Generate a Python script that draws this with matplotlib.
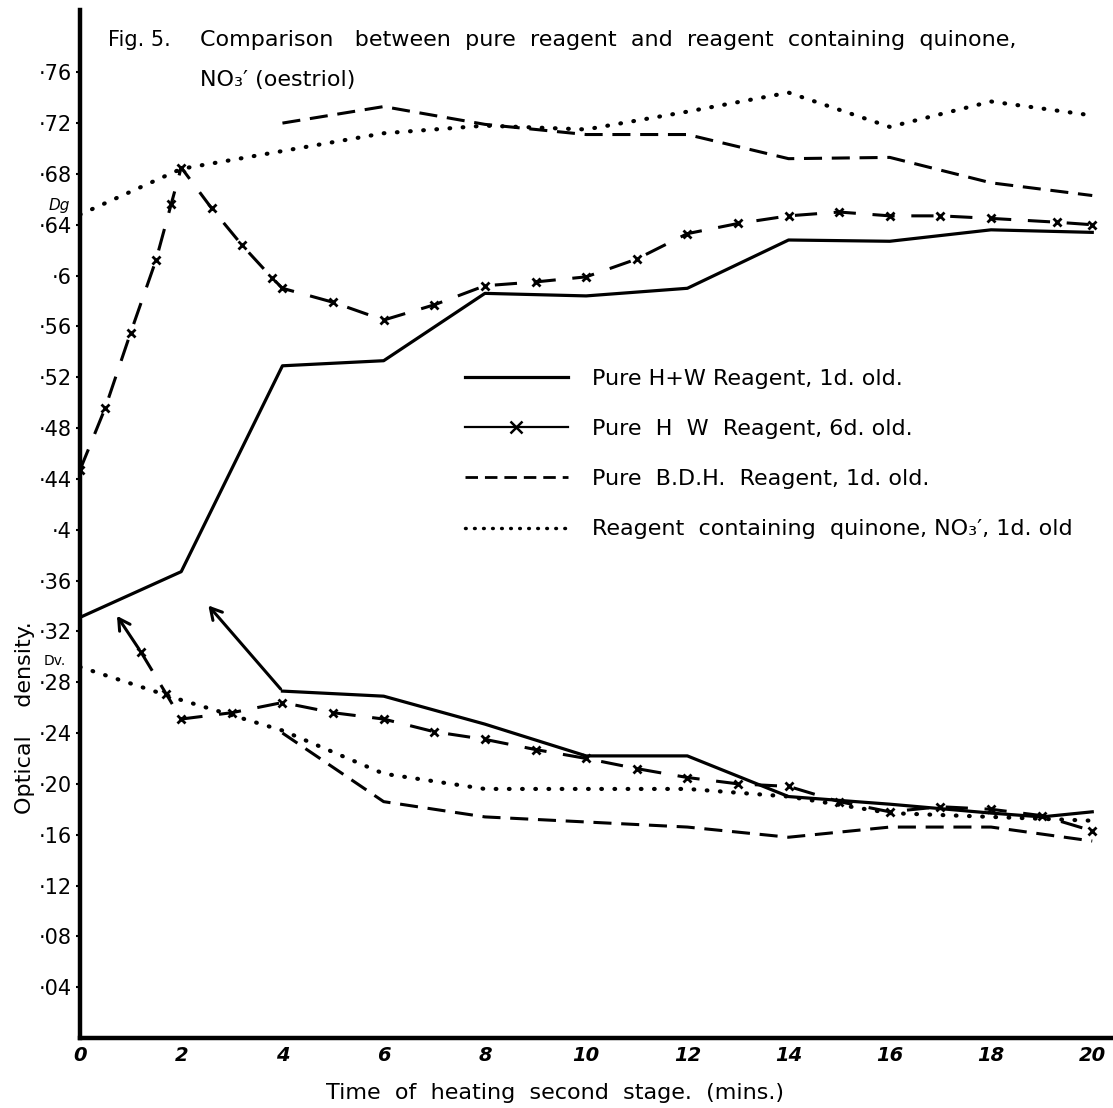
import matplotlib
matplotlib.use('Agg')
import matplotlib.pyplot as plt
from matplotlib.lines import Line2D

plt.rcParams['font.family'] = ['DejaVu Sans']
plt.rcParams['lines.scale_dashes'] = False

# Pure H+W reagent, 1 day old
hw1_t_up = [0, 2, 4, 6, 8, 10, 12, 14, 16, 18, 20]
hw1_v_up = [0.331, 0.367, 0.529, 0.533, 0.586, 0.584, 0.590, 0.628, 0.627, 0.636, 0.634]
hw1_t_lo = [4, 6, 8, 10, 12, 14, 16, 18, 19, 20]
hw1_v_lo = [0.273, 0.269, 0.247, 0.222, 0.222, 0.190, 0.184, 0.177, 0.174, 0.178]

# Pure H W reagent, 6 days old
hw6_t_up = [0, 0.5, 1, 1.5, 1.8, 2, 2.6, 3.2, 3.8, 4, 5, 6, 7, 8, 9, 10, 11, 12, 13, 14,
            15, 16, 17, 18, 19.3, 20]
hw6_v_up = [0.447, 0.496, 0.555, 0.612, 0.656, 0.685, 0.653, 0.624, 0.598, 0.590, 0.579,
            0.565, 0.577, 0.592, 0.595, 0.599, 0.613, 0.633, 0.641, 0.647, 0.650, 0.647,
            0.647, 0.645, 0.642, 0.640]
hw6_t_lo = [1.2, 1.7, 2, 3, 4, 5, 6, 7, 8, 9, 10, 11, 12, 13, 14, 15, 16, 17, 18, 19, 20]
hw6_v_lo = [0.304, 0.271, 0.251, 0.256, 0.264, 0.256, 0.251, 0.241, 0.235, 0.227, 0.220,
            0.212, 0.205, 0.200, 0.198, 0.186, 0.178, 0.182, 0.180, 0.175, 0.163]

# Pure B.D.H. reagent, 1 day old
bdh_t = [4, 6, 8, 10, 12, 14, 16, 18, 20]
bdh_v_up = [0.720, 0.733, 0.719, 0.711, 0.711, 0.692, 0.693, 0.673, 0.663]
bdh_v_lo = [0.240, 0.186, 0.174, 0.170, 0.166, 0.158, 0.166, 0.166, 0.155]

# Reagent containing quinone, NO3', 1 day old
qn_t = [0, 2, 4, 6, 8, 10, 12, 14, 16, 18, 20]
qn_v_up = [0.648, 0.684, 0.698, 0.712, 0.718, 0.715, 0.729, 0.744, 0.717, 0.737, 0.726]
qn_v_lo = [0.292, 0.266, 0.242, 0.208, 0.196, 0.196, 0.196, 0.190, 0.177, 0.174, 0.171]

y_ticks = [0.04, 0.08, 0.12, 0.16, 0.20, 0.24, 0.28, 0.32, 0.36, 0.40, 0.44, 0.48, 0.52,
           0.56, 0.60, 0.64, 0.68, 0.72, 0.76]
y_labels = ['·04', '·08', '·12', '·16', '·20', '·24', '·28', '·32', '·36', '·4', '·44',
            '·48', '·52', '·56', '·6', '·64', '·68', '·72', '·76']
x_ticks = [0, 2, 4, 6, 8, 10, 12, 14, 16, 18, 20]

legend_labels = ['Pure H+W Reagent, 1d. old.',
                 'Pure  H  W  Reagent, 6d. old.',
                 'Pure  B.D.H.  Reagent, 1d. old.',
                 'Reagent  containing  quinone, NO₃′, 1d. old']

W, H = 1113, 1108
fig = plt.figure(figsize=(W / 100, H / 100), dpi=100)
ax = fig.add_axes([80 / W, 1 - 1038 / H, (W - 80) / W, (1038 - 10) / H])
ax.set_xlim(0, 20.41)
ax.set_ylim(0, 0.809)

solid = dict(color='k', lw=2.3, ls='-')
xline = dict(color='k', lw=2.2, dashes=(16, 12), marker='x', ms=6, mew=2)
dashed = dict(color='k', lw=2.2, dashes=(13, 7))
dotted = dict(color='k', lw=3, dashes=(0.5, 9), dash_capstyle='round')

ax.plot(hw1_t_up, hw1_v_up, **solid)
ax.plot(hw1_t_lo, hw1_v_lo, **solid)
ax.plot(hw6_t_up, hw6_v_up, **xline)
ax.plot(hw6_t_lo, hw6_v_lo, **xline)
ax.plot(bdh_t, bdh_v_up, **dashed)
ax.plot(bdh_t, bdh_v_lo, **dashed)
ax.plot(qn_t, qn_v_up, **dotted)
ax.plot(qn_t, qn_v_lo, **dotted)

# arrows pointing the lower curves back to their starting readings
arrow = dict(arrowstyle='->,head_length=0.8,head_width=0.45', color='k', lw=2.2)
ax.annotate('', xy=(0.7, 0.334), xytext=(hw6_t_lo[0], hw6_v_lo[0]), arrowprops=arrow)
ax.annotate('', xy=(2.5, 0.342), xytext=(hw1_t_lo[0], hw1_v_lo[0]), arrowprops=arrow)

for s in ['top', 'right']:
    ax.spines[s].set_visible(False)
ax.spines['left'].set_linewidth(3.2)
ax.spines['bottom'].set_linewidth(3.2)

ax.set_yticks(y_ticks)
ax.set_yticklabels(y_labels, fontsize=15)
ax.set_xticks(x_ticks)
ax.set_xticklabels([str(t) for t in x_ticks], fontsize=14, fontstyle='italic',
                   fontweight='bold')
ax.tick_params(axis='y', length=3, width=1.5, pad=3)
ax.tick_params(axis='x', length=0, pad=6)

ax.text(-0.4, 0.655, 'Dg', fontsize=11, fontstyle='italic', ha='center', va='center')
ax.text(-0.5, 0.297, 'Dv.', fontsize=10, ha='center', va='center')

handles = [Line2D([], [], **solid),
           Line2D([], [], color='k', lw=1.6, marker='x', ms=9, mew=1.8),
           Line2D([], [], color='k', lw=2, dashes=(9, 5)),
           Line2D([], [], color='k', lw=2.5, dashes=(0.5, 6), dash_capstyle='round')]
ax.legend(handles, legend_labels, loc='upper left', bbox_to_anchor=(0.373, 0.651),
          frameon=False, fontsize=16, handlelength=4.6, handletextpad=1.1,
          labelspacing=1.36, borderpad=0, borderaxespad=0, numpoints=1)

fig.text(108 / W, 1 - 40 / H, 'Fig. 5.', fontsize=15, va='center')
fig.text(200 / W, 1 - 40 / H,
         'Comparison   between  pure  reagent  and  reagent  containing  quinone,',
         fontsize=16, va='center')
fig.text(200 / W, 1 - 80 / H, 'NO₃′ (oestriol)', fontsize=16, va='center')
fig.text(25 / W, 1 - 718 / H, 'Optical    density.', fontsize=16, rotation=90,
         ha='center', va='center')
fig.text(555 / W, 1 - 1093 / H, 'Time  of  heating  second  stage.  (mins.)',
         fontsize=16, ha='center', va='center')

fig.savefig('out.png', dpi=100)
